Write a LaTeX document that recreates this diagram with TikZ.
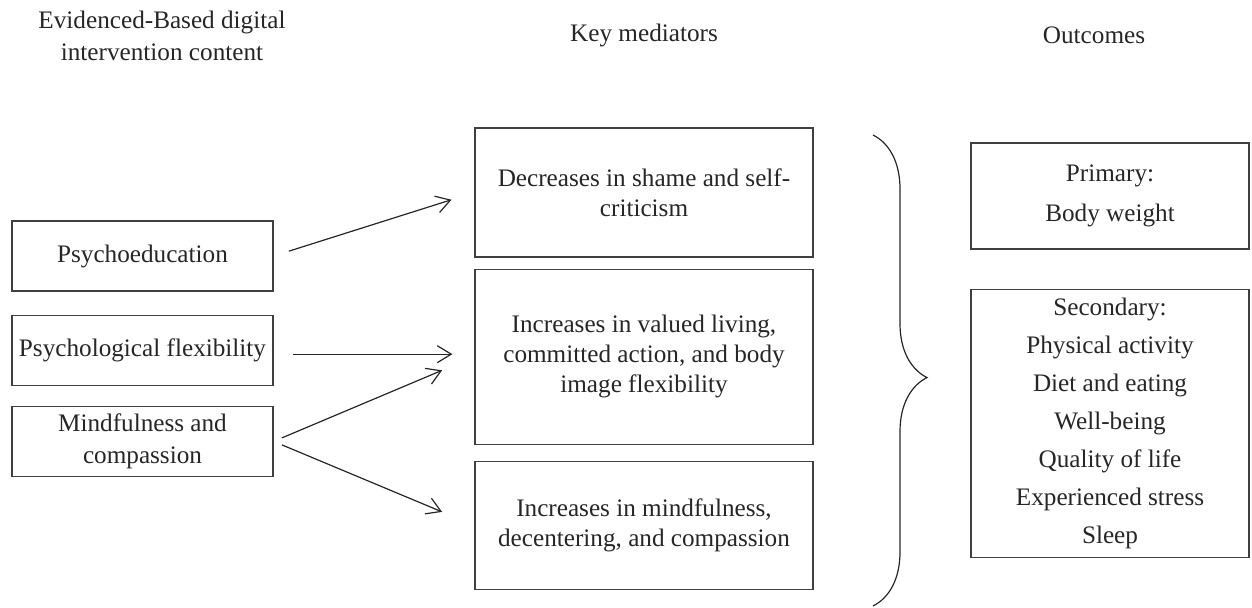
\documentclass[tikz,border=0pt]{standalone}
\usepackage{fontspec}
\setmainfont{Liberation Serif}
\usetikzlibrary{arrows.meta,positioning,decorations.pathreplacing}

\begin{document}
\begin{tikzpicture}[x=0.5pt,y=-0.5pt,>={Straight Barb[length=7pt,width=8.5pt]},line width=0.6pt,font=\fontsize{12.6}{15}\selectfont]
  \tikzstyle{every node}=[text=black!85]
  \tikzstyle{srcbox}=[draw=black!75,minimum width=130.5pt,minimum height=35pt,align=center,inner sep=0pt,font=\fontsize{12.6}{16}\selectfont]
  \tikzstyle{medbox}=[draw=black!75,minimum width=169pt,align=center,inner sep=0pt]
  \tikzstyle{outbox}=[draw=black!75,minimum width=139pt,align=center,inner sep=0pt,font=\fontsize{12.6}{19}\selectfont]
  \tikzstyle{link}=[draw=black!85,->]

  \useasboundingbox (0,0) rectangle (1252,608);

  % column heads
  \node[align=center,font=\fontsize{12.6}{16}\selectfont] (headsrc) at (162,36) {Evidenced-Based digital\\intervention content};
  \node (headmed) at (644,35) {Key mediators};
  \node (headout) at (1094,35) {Outcomes};

  % intervention content
  \node[srcbox] (psy) at (142.5,256) {Psychoeducation};
  \node[srcbox] (flex) [below=11.5pt of psy] {Psychological flexibility};
  \node[srcbox] (mind) [below=10pt of flex] {Mindfulness and\\compassion};

  % mediators
  \node[medbox,minimum height=64.5pt] (med1) at (644,192.5) {Decreases in shame and self-\\criticism};
  \node[medbox,minimum height=87.5pt] (med2) [below=5.5pt of med1] {Increases in valued living,\\committed action, and body\\image flexibility};
  \node[medbox,minimum height=64pt] (med3) [below=8pt of med2] {Increases in mindfulness,\\decentering, and compassion};

  % outcomes
  \node[outbox,minimum height=53pt] (prim) at (1110,196) {Primary:\\[1pt]Body weight};
  \node[outbox,minimum height=134pt] (sec) [below=19.5pt of prim] {Secondary:\\Physical activity\\Diet and eating\\Well-being\\Quality of life\\Experienced stress\\Sleep};

  % brace
  \coordinate (brtop) at (873,135);
  \coordinate (brbot) at (873,606);
  \draw[draw=black!85,decorate,decoration={brace,amplitude=27pt,aspect=0.515}] (brtop) -- (brbot);

  \path
  (psy.east) edge[link,shorten <=8pt,shorten >=12pt] (med1.west)
  ([yshift=-2pt]flex.east) edge[link,shorten <=9.5pt,shorten >=11pt] ([yshift=-2pt]flex.east -| med2.west)
  (mind.east) edge[link,shorten <=4.5pt,shorten >=17.5pt] (med2.west)
  (mind.east) edge[link,shorten <=4.5pt,shorten >=17.5pt] (med3.west);
\end{tikzpicture}
\end{document}
